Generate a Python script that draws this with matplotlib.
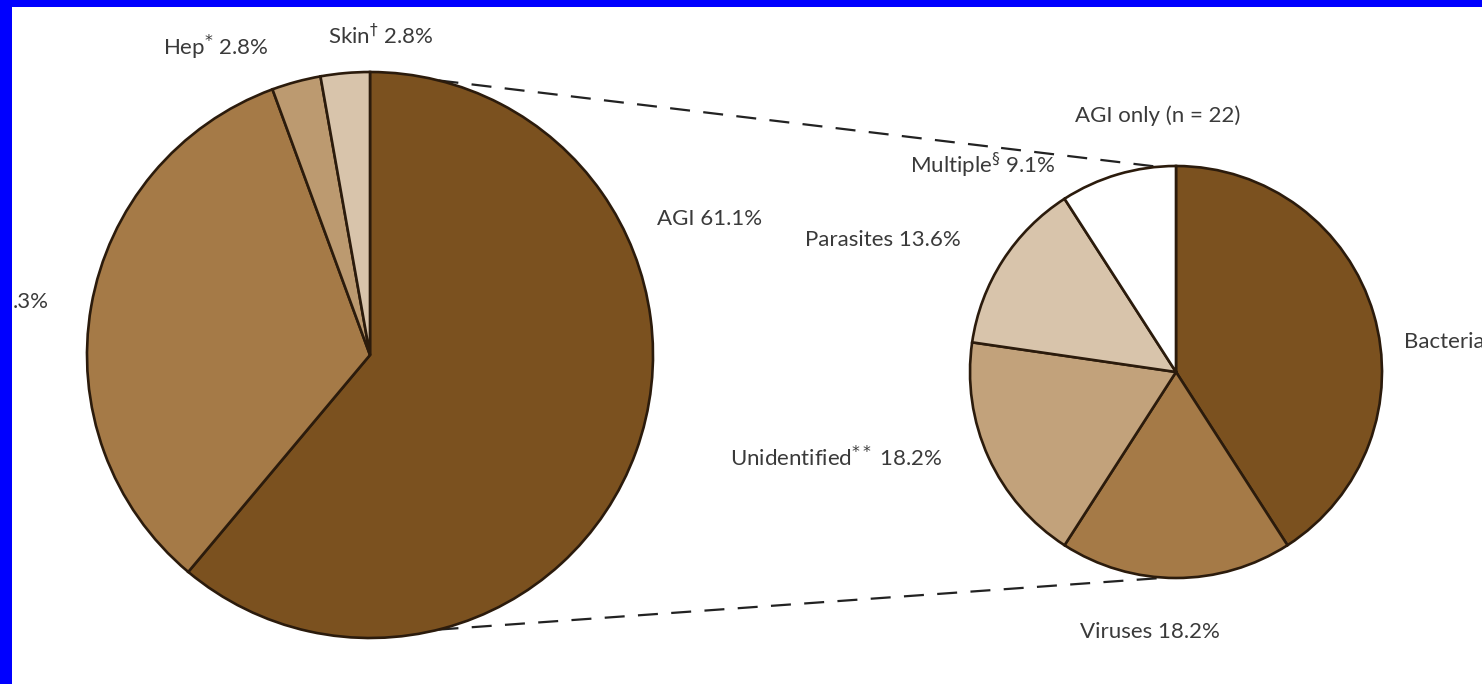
import matplotlib
matplotlib.use("Agg")
import matplotlib.pyplot as plt
from matplotlib.patches import Rectangle
import numpy as np

# ---- data ----
left_labels = ["AGI", "Legionellosis", "Hep", "Skin"]
left_values = [61.1, 33.3, 2.8, 2.8]
left_colors = ["#7B511F", "#A57A47", "#BC9A70", "#D8C4AB"]

right_labels = ["Bacteria", "Viruses", "Unidentified", "Parasites", "Multiple"]
right_values = [40.9, 18.2, 18.2, 13.6, 9.1]
right_colors = ["#7B511F", "#A57A47", "#C2A27B", "#D8C4AB", "#FFFFFF"]

W, H = 1482, 684
plt.rcParams['font.family'] = ['Lato', 'DejaVu Sans']
plt.rcParams['mathtext.fontset'] = 'dejavusans'

fig = plt.figure(figsize=(W / 100, H / 100), dpi=100)
fig.patch.set_facecolor("white")
ax = fig.add_axes([0, 0, 1, 1])

edge = "#2B1B0C"
lc, lr = (370, H - 355), 283
rc, rr = (1176, H - 372), 206

ax.pie(left_values, colors=left_colors, startangle=90, counterclock=False,
       center=lc, radius=lr, frame=True,
       wedgeprops=dict(edgecolor=edge, linewidth=1.9))
ax.pie(right_values, colors=right_colors, startangle=90, counterclock=False,
       center=rc, radius=rr, frame=True,
       wedgeprops=dict(edgecolor=edge, linewidth=1.9))
ax.set_xlim(0, W)
ax.set_ylim(0, H)
ax.set_aspect("equal")
ax.axis("off")

# connector dashed lines
def pt(c, r, deg):
    a = np.deg2rad(deg)
    return c[0] + r * np.cos(a), c[1] + r * np.sin(a)

for la, ra in [(76, 95), (-76, -93)]:
    p1 = pt(lc, lr, la)
    p2 = pt(rc, rr, ra)
    ax.plot([p1[0], p2[0]], [p1[1], p2[1]], color="#222222", lw=1.6,
            dashes=(9, 6), zorder=0)

tc = "#3a3a3a"
fs = 16
def lab(x, y, s, ha="left"):
    ax.text(x, H - y, s, ha=ha, va="center", fontsize=fs, color=tc)

lab(163, 47, r"Hep$^{*}$ 2.8%")
lab(328, 36, r"Skin$^{\dagger}$ 2.8%")
lab(657, 219, "AGI 61.1%")
lab(13, 302, ".3%")
lab(1158, 116, "AGI only (n = 22)", ha="center")
lab(910, 165, r"Multiple$^{\S}$ 9.1%")
lab(805, 240, "Parasites 13.6%")
lab(730, 458, r"Unidentified$^{**}$ 18.2%")
lab(1080, 632, "Viruses 18.2%")
lab(1404, 342, "Bacteria")

# blue frame (left and top)
fig.add_artist(Rectangle((0, 0), 12 / W, 1, transform=fig.transFigure,
                         facecolor="#0000FF", edgecolor="none", zorder=20))
fig.add_artist(Rectangle((0, 1 - 7 / H), 1, 7 / H, transform=fig.transFigure,
                         facecolor="#0000FF", edgecolor="none", zorder=20))

fig.savefig("out.png", dpi=100, facecolor="white")
